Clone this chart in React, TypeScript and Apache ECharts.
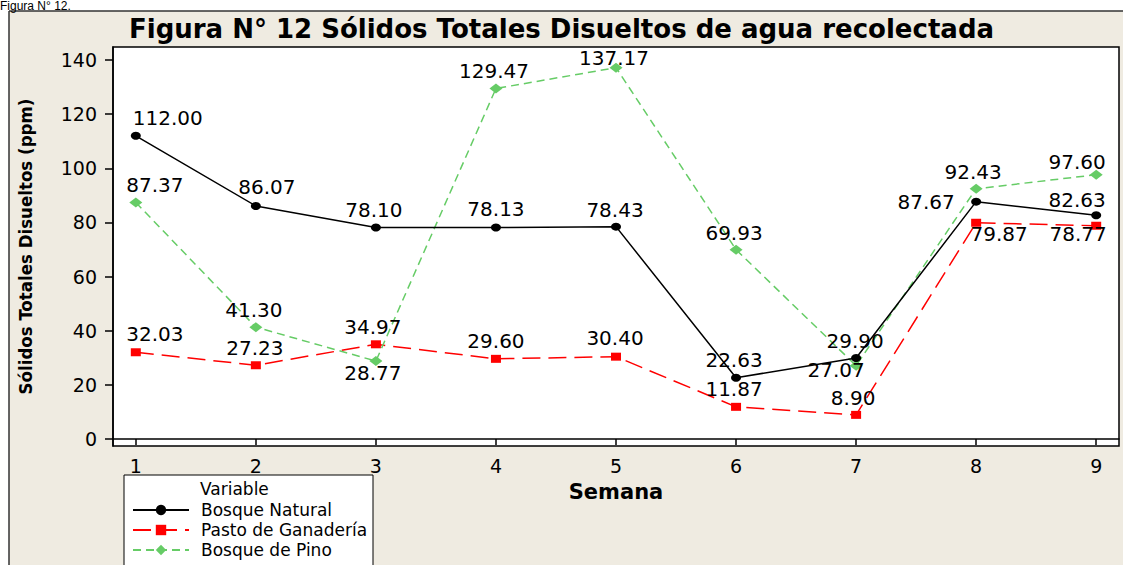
import React, { useEffect, useRef } from "react";
import * as echarts from "echarts";

const weeks = [1, 2, 3, 4, 5, 6, 7, 8, 9];
const bosqueNatural = [112.0, 86.07, 78.1, 78.13, 78.43, 22.63, 29.9, 87.67, 82.63];
const pastoGanaderia = [32.03, 27.23, 34.97, 29.6, 30.4, 11.87, 8.9, 79.87, 78.77];
const bosquePino = [87.37, 41.3, 28.77, 129.47, 137.17, 69.93, 27.07, 92.43, 97.6];
const yTicks = [0, 20, 40, 60, 80, 100, 120, 140];
const seriesNames = ["Bosque Natural", "Pasto de Ganadería", "Bosque de Pino"];

// label offsets (label centre relative to the point)
const natOffsets = [[32, -18], [11, -19], [-2, -18], [0, -18], [-1, -17], [-2, -18], [-1, -17], [-50, 0], [-19, -15]];
const pastoOffsets = [[19, -18], [-1, -17], [-3, -17], [0, -18], [-1, -19], [-2, -18], [-3, -17], [23, 11], [-18, 8]];
const pinoOffsets = [[19, -17], [-2, -17], [-3, 12], [-2, -17], [-2, -10], [-2, -17], [-20, 4], [-3, -17], [-19, -13]];

const FONT = "'DejaVu Sans', Verdana, sans-serif";

function buildData(values: number[], offsets: number[][]) {
  return values.map((v, i) => ({
    value: [weeks[i], v],
    label: { offset: offsets[i] },
  }));
}

const labelBase = {
  show: true,
  position: "inside",
  color: "#000",
  fontSize: 20,
  fontFamily: FONT,
  formatter: (p: any) => Number(p.value[1]).toFixed(2),
};

export default function App() {
  const ref = useRef<HTMLDivElement>(null);
  useEffect(() => {
    if (!ref.current) return;
    const chart = echarts.init(ref.current, undefined, { renderer: "svg" });
    chart.setOption({
      animation: false,
      backgroundColor: "#EFEBE1",
      title: {
        text: "Figura N° 12 Sólidos Totales Disueltos de agua recolectada",
        left: "center",
        top: 16,
        padding: [0, 0, 0, 10],
        textStyle: { fontSize: 26, fontWeight: "bold", fontFamily: FONT, color: "#000" },
      },
      grid: {
        left: 113,
        top: 47,
        right: 4,
        bottom: 119,
        show: true,
        backgroundColor: "#fff",
        borderColor: "#000",
        borderWidth: 1.5,
        containLabel: false,
      },
      xAxis: {
        type: "value",
        min: 0.81,
        max: 9.19,
        name: "Semana",
        nameLocation: "middle",
        nameGap: 35,
        nameTextStyle: { fontSize: 21, fontWeight: "bold", fontFamily: FONT, color: "#000" },
        axisLine: { show: true, lineStyle: { color: "#000", width: 1.5 } },
        axisTick: { show: true, length: 6, lineStyle: { color: "#000", width: 1.5 }, customValues: weeks },
        axisLabel: { fontSize: 19, fontFamily: FONT, color: "#000", margin: 10, customValues: weeks },
        splitLine: { show: false },
      },
      yAxis: {
        type: "value",
        min: -2.6,
        max: 144.8,
        name: "Sólidos Totales Disueltos (ppm)",
        nameLocation: "middle",
        nameGap: 78,
        nameRotate: 90,
        nameTextStyle: {
          fontSize: 18.5,
          fontWeight: "bold",
          fontFamily: "'DejaVu Sans Condensed', 'DejaVu Sans', sans-serif",
          color: "#000",
        },
        axisLine: { show: true, lineStyle: { color: "#000", width: 1.5 } },
        axisTick: { show: true, length: 8, lineStyle: { color: "#000", width: 1.5 }, customValues: yTicks },
        axisLabel: { fontSize: 19, fontFamily: FONT, color: "#000", margin: 16, customValues: yTicks },
        splitLine: { show: false },
      },
      legend: {
        orient: "vertical",
        left: 132,
        top: 500,
        padding: 0,
        itemGap: 0,
        itemWidth: 56,
        itemHeight: 13,
        z: 5,
        textStyle: { fontSize: 17, fontFamily: FONT, color: "#000", lineHeight: 20, padding: [0, 0, 0, 7] },
        data: seriesNames,
      },
      graphic: [
        { type: "rect", z: 0, shape: { x: 0, y: 0, width: 1123, height: 11 }, style: { fill: "#fff" } },
        { type: "rect", z: 0, shape: { x: 0, y: 0, width: 9, height: 565 }, style: { fill: "#fff" } },
        { type: "line", z: 1, shape: { x1: 9, y1: 11, x2: 1123, y2: 11 }, style: { stroke: "#333", lineWidth: 1.5 } },
        { type: "line", z: 1, shape: { x1: 9, y1: 11, x2: 9, y2: 565 }, style: { stroke: "#333", lineWidth: 1.5 } },
        {
          type: "text",
          z: 2,
          x: 0,
          y: 5.5,
          style: {
            text: "Figura N° 12.",
            fontSize: 12,
            fontFamily: "'Liberation Sans', Arial, sans-serif",
            fill: "#000",
            textAlign: "left",
            textVerticalAlign: "middle",
          },
        },
        {
          type: "rect",
          z: 1,
          shape: { x: 124, y: 475, width: 249, height: 100 },
          style: { fill: "#fff", stroke: "#000", lineWidth: 1 },
        },
        {
          type: "text",
          z: 2,
          x: 200,
          y: 489,
          style: {
            text: "Variable",
            fontSize: 17,
            fontFamily: FONT,
            fill: "#000",
            textAlign: "left",
            textVerticalAlign: "middle",
          },
        },
      ],
      series: [
        {
          name: seriesNames[0],
          type: "line",
          data: buildData(bosqueNatural, natOffsets),
          symbol: "circle",
          symbolSize: [10, 8],
          color: "#000",
          itemStyle: { color: "#000" },
          lineStyle: { color: "#000", width: 1.5, type: "solid" },
          label: labelBase,
          z: 3,
        },
        {
          name: seriesNames[1],
          type: "line",
          data: buildData(pastoGanaderia, pastoOffsets),
          symbol: "rect",
          symbolSize: [10, 8],
          color: "#FF0000",
          itemStyle: { color: "#FF0000" },
          lineStyle: { color: "#FF0000", width: 1.5, type: [18, 8] },
          label: labelBase,
          z: 2,
        },
        {
          name: seriesNames[2],
          type: "line",
          data: buildData(bosquePino, pinoOffsets),
          symbol: "diamond",
          symbolSize: [13, 10],
          color: "#66CC66",
          itemStyle: { color: "#66CC66" },
          lineStyle: { color: "#66CC66", width: 1.5, type: [8, 5] },
          label: labelBase,
          z: 2,
        },
      ],
    });
    return () => chart.dispose();
  }, []);
  return <div ref={ref} style={{ position: "absolute", left: 0, top: 0, width: 1123, height: 565 }} />;
}
